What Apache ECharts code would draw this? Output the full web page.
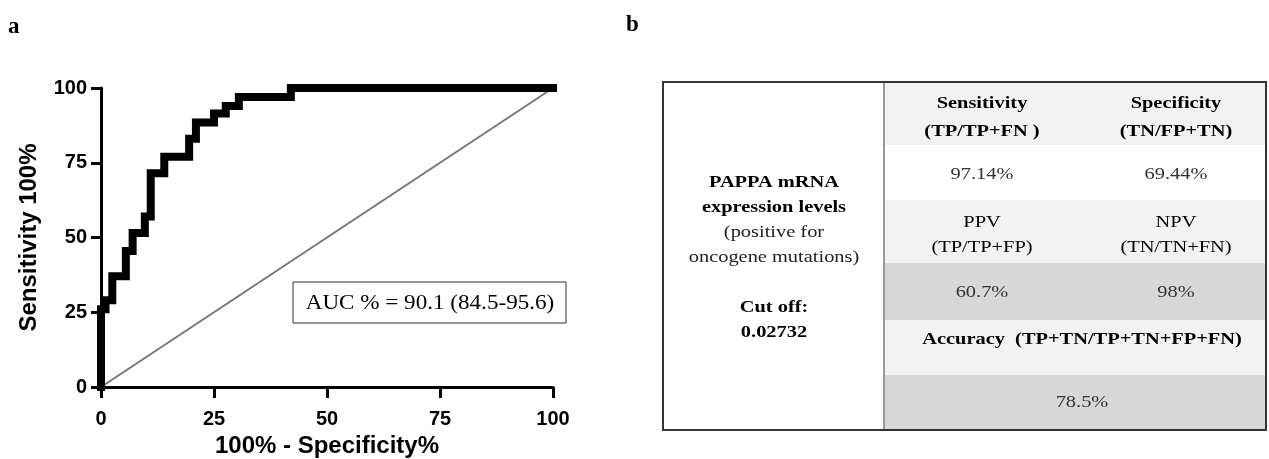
<!DOCTYPE html>
<html>
<head>
<meta charset="utf-8">
<title>ROC</title>
<script src="https://cdn.jsdelivr.net/npm/echarts@6/dist/echarts.min.js"></script>
<style>
    html, body { margin: 0; padding: 0; background: #fff; }
    #chart { width: 1269px; height: 459px; }
</style>
</head>
<body>
<div id="chart"></div>
<script>
// ROC curve corners (100% - specificity, sensitivity)
const fpr = [0, 0, 1, 1, 2.5, 2.5, 5.5, 5.5, 7, 7, 9.7, 9.7, 11, 11, 14, 14, 19.5, 19.5, 21, 21, 25, 25, 27.6, 27.6, 30.5, 30.5, 42, 42, 100]
const tpr = [0, 26, 26, 29, 29, 37, 37, 45.5, 45.5, 51.5, 51.5, 57, 57, 71.5, 71.5, 77, 77, 83, 83, 88.5, 88.5, 91.5, 91.5, 94, 94, 97, 97, 100, 100]
const chance = [0, 100]
const ticks = [0, 25, 50, 75, 100]
const aucLabel = 'AUC % = 90.1 (84.5-95.6)'

// table b
const headRow = ['Sensitivity', 'Specificity']
const headRowSub = ['(TP/TP+FN )', '(TN/FP+TN)']
const valueRow = ['97.14%', '69.44%']
const predRow = ['PPV', 'NPV']
const predRowSub = ['(TP/TP+FP)', '(TN/TN+FN)']
const predValueRow = ['60.7%', '98%']
const accuracyLabel = 'Accuracy  (TP+TN/TP+TN+FP+FN)'
const accuracyValue = '78.5%'
const leftLines = ['PAPPA mRNA', 'expression levels', '(positive for', 'oncogene mutations)', '', 'Cut off:', '0.02732']
const leftBold = [true, true, false, false, false, true, true]

const chart = echarts.init(document.getElementById('chart'))

const serif = '"Liberation Serif", "Times New Roman", serif'
const sans = '"Liberation Sans", Arial, sans-serif'

function txt(s, x, y, bold, color) {
    return {
        type: 'text',
        x: x,
        y: y,
        scaleX: 1.2,
        z: 10,
        style: {
            text: s,
            fill: color || '#000',
            fontFamily: serif,
            fontSize: 17,
            fontWeight: bold ? 'bold' : 'normal',
            align: 'center',
            verticalAlign: 'middle',
            textAlign: 'center',
            textVerticalAlign: 'middle'
        }
    }
}

function cell(x, y, w, h, color) {
    return { type: 'rect', shape: { x: x, y: y, width: w, height: h }, style: { fill: color }, z: 1 }
}

// table layout
const tLeft = 663, tTop = 82, tRight = 1266, tBottom = 430, divX = 884
const colX = [982, 1176]
const rowEdges = [82, 145, 200, 263, 320, 375, 430]
const rowColors = ['#f2f2f2', '#ffffff', '#f2f2f2', '#d8d8d8', '#f2f2f2', '#d8d8d8']

const graphics = []
rowColors.forEach((c, i) => {
    graphics.push(cell(divX, rowEdges[i], tRight - divX, rowEdges[i + 1] - rowEdges[i], c))
})
graphics.push({
    type: 'line', z: 5,
    shape: { x1: divX, y1: tTop, x2: divX, y2: tBottom },
    style: { stroke: '#999', lineWidth: 2 }
})
graphics.push({
    type: 'rect', z: 6,
    shape: { x: tLeft, y: tTop, width: tRight - tLeft, height: tBottom - tTop },
    style: { fill: 'none', stroke: '#333', lineWidth: 2 }
})
for (let i = 0; i < 2; i++) {
    graphics.push(txt(headRow[i], colX[i], 104, true))
    graphics.push(txt(headRowSub[i], colX[i], 132, true))
    graphics.push(txt(valueRow[i], colX[i], 175, false, '#333'))
    graphics.push(txt(predRow[i], colX[i], 223, false))
    graphics.push(txt(predRowSub[i], colX[i], 248, false))
    graphics.push(txt(predValueRow[i], colX[i], 293, false, '#333'))
}
graphics.push(txt(accuracyLabel, 1082, 340, true))
graphics.push(txt(accuracyValue, 1082, 403, false, '#333'))
leftLines.forEach((s, i) => {
    if (s) graphics.push(txt(s, 774, 183 + i * 25, leftBold[i], leftBold[i] ? '#000' : '#222'))
})

// AUC box
graphics.push({
    type: 'rect', z: 20,
    shape: { x: 293, y: 282, width: 273, height: 41 },
    style: { fill: '#fff', stroke: '#333', lineWidth: 1 }
})
graphics.push({
    type: 'text', x: 430, y: 303, z: 21, scaleX: 1.1,
    style: {
        text: aucLabel, fill: '#000', fontFamily: serif, fontSize: 21,
        align: 'center', verticalAlign: 'middle', textAlign: 'center', textVerticalAlign: 'middle'
    }
})

// panel letters
graphics.push({
    type: 'text', x: 8, y: 27,
    style: { text: 'a', fill: '#000', fontFamily: serif, fontSize: 23, fontWeight: 'bold', verticalAlign: 'middle', textVerticalAlign: 'middle' }
})
graphics.push({
    type: 'text', x: 626, y: 25,
    style: { text: 'b', fill: '#000', fontFamily: serif, fontSize: 23, fontWeight: 'bold', verticalAlign: 'middle', textVerticalAlign: 'middle' }
})

const axisCommon = {
    type: 'value',
    min: ticks[0],
    max: ticks[ticks.length - 1],
    interval: ticks[1] - ticks[0],
    nameLocation: 'middle',
    nameTextStyle: { color: '#000', fontFamily: sans, fontSize: 24, fontWeight: 'bold' },
    axisLine: { show: true, lineStyle: { color: '#000', width: 3 } },
    axisTick: { show: true, length: 11, lineStyle: { color: '#000', width: 3 } },
    axisLabel: { color: '#000', fontFamily: sans, fontSize: 20, fontWeight: 'bold' },
    splitLine: { show: false }
}

const option = {
    animation: false,
    backgroundColor: '#fff',
    grid: { left: 101, right: 716, top: 88, bottom: 72, outerBoundsMode: 'none', containLabel: false },
    xAxis: Object.assign({}, axisCommon, {
        name: '100% - Specificity%',
        nameGap: 47,
        axisLabel: Object.assign({}, axisCommon.axisLabel, { margin: 22 })
    }),
    yAxis: Object.assign({}, axisCommon, {
        name: 'Sensitivity 100%',
        nameGap: 60,
        axisTick: Object.assign({}, axisCommon.axisTick, { length: 10 }),
        axisLabel: Object.assign({}, axisCommon.axisLabel, { margin: 14 })
    }),
    series: [
        {
            type: 'line',
            data: chance.map(v => [v, v]),
            symbol: 'none',
            lineStyle: { color: '#777', width: 2 },
            z: 2
        },
        {
            type: 'line',
            data: fpr.map((x, i) => [x, tpr[i]]),
            symbol: 'none',
            clip: true,
            lineStyle: { color: '#000', width: 8, join: 'miter', cap: 'square' },
            z: 3
        }
    ],
    graphic: graphics
}

chart.setOption(option)
</script>
</body>
</html>
